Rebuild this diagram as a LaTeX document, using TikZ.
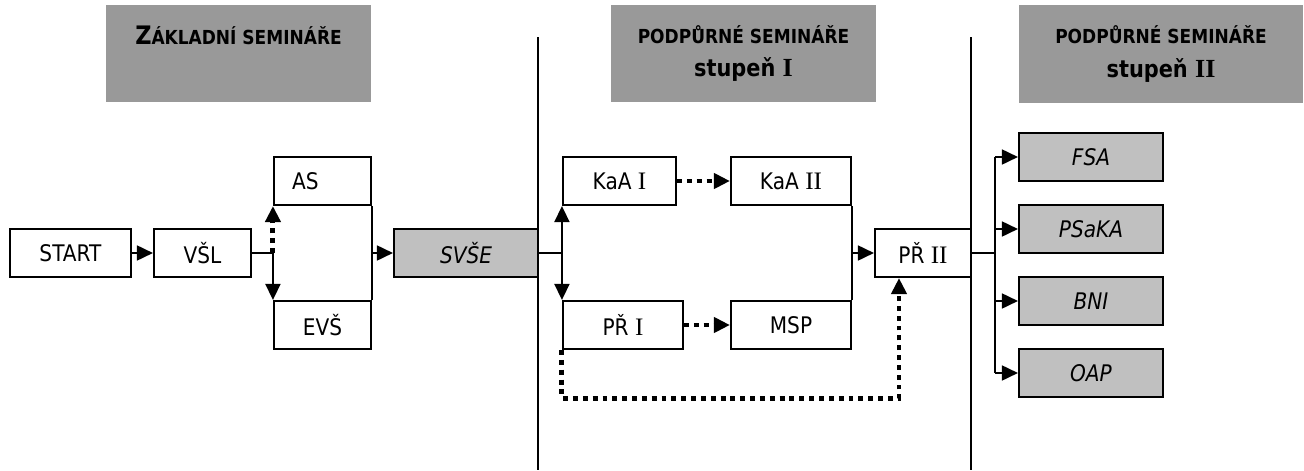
\documentclass[tikz,border=0pt]{standalone}
\usepackage{fontspec}
\setmainfont{DejaVu Sans}[FakeStretch=0.88]
\newfontfamily\romfont{Liberation Serif}[Scale=1.1]
\usetikzlibrary{arrows.meta}

\definecolor{headgrey}{HTML}{999999}
\definecolor{boxgrey}{HTML}{C0C0C0}

\newcommand{\rn}[1]{{\romfont #1}}

\begin{document}
\begin{tikzpicture}[font=\fontsize{13}{15}\selectfont,
  box/.style={draw,line width=1.2pt,minimum height=0.96cm,inner sep=0pt},
  grey box/.style={box,fill=boxgrey,font=\fontsize{13}{15}\selectfont\itshape},
  head box/.style={fill=headgrey,minimum height=1.94cm,minimum width=5.3cm,align=center,inner sep=0pt,font=\bfseries\fontsize{11}{19}\selectfont},
  line/.style={line width=1pt},
  link/.style={line width=1pt,-{Triangle[length=0.32cm,width=0.3cm]}},
  dot link/.style={line width=2.8pt,dash pattern=on 2.8pt off 2.8pt,-{Triangle[length=0.32cm,width=0.3cm]}}]
\useasboundingbox (0,0) rectangle (26.08,9.4);

% Headings
\node[head box] (head1) at (4.77,8.33) {{\fontsize{14.5}{19}\selectfont Z}ÁKLADNÍ SEMINÁŘE\\ \phantom{stupeň}};
\node[head box] (head2) at (14.87,8.33) {PODPŮRNÉ SEMINÁŘE\\{\fontsize{13.5}{19}\selectfont stupeň \rn{I}}};
\node[head box,minimum width=5.68cm] (head3) at (23.22,8.32) {PODPŮRNÉ SEMINÁŘE\\{\fontsize{13.5}{19}\selectfont stupeň \rn{II}}};

% Dividers
\draw[line width=1pt] (10.76,8.66) -- (10.76,0);
\draw[line width=1pt] (19.42,8.66) -- (19.42,0);

% Basic seminars
\node[box,minimum width=2.42cm] (start) at (1.41,4.34) {START};
\node[box,minimum width=1.94cm] (vsl) at (4.05,4.34) {VŠL};
\node[box,minimum width=1.94cm] (as) at (6.45,5.78) {\makebox[1.94cm][l]{\hspace*{0.36cm}AS}};
\node[box,minimum width=1.94cm] (evs) at (6.45,2.90) {EVŠ};
\node[grey box,minimum width=2.88cm] (svse) at (9.32,4.34) {SVŠE};

\draw[link] (start) -- (vsl);
\coordinate (split1) at (as.south west |- vsl.east);
\draw[line] (vsl.east) -- (split1);
\draw[link] (split1) -- (evs.north west);
\draw[dot link] (split1) -- (as.south west);
\draw[line] (as.south east) -- (evs.north east);
\coordinate (join1) at (as.south east |- svse.west);
\draw[link] (join1) -- (svse.west);

% Stage I
\node[box,minimum width=2.26cm] (kaa1) at (12.39,5.78) {KaA \rn{I}};
\node[box,minimum width=2.40cm] (kaa2) at (15.82,5.78) {KaA \rn{II}};
\node[box,minimum width=2.40cm] (pr1) at (12.46,2.90) {PŘ \rn{I}};
\node[box,minimum width=2.40cm] (msp) at (15.82,2.90) {MSP};
\node[box,minimum width=1.92cm] (pr2) at (18.46,4.34) {PŘ \rn{II}};

\coordinate (split2) at (kaa1.south west |- svse.east);
\draw[line] (svse.east) -- (split2);
\draw[link] (split2) -- (kaa1.south west);
\draw[link] (split2) -- (pr1.north west);
\draw[dot link] (kaa1.east) -- (kaa2.west);
\draw[dot link] (pr1.east) -- (msp.west);
\draw[line] (kaa2.south east) -- (msp.north east);
\coordinate (join2) at (kaa2.south east |- pr2.west);
\draw[link] (join2) -- (pr2.west);
\draw[dot link] (pr1.south west) -- ++(0,-0.96) -| ([xshift=-0.48cm]pr2.south);

% Stage II
\node[grey box,minimum width=2.88cm] (fsa) at (21.82,6.26) {FSA};
\node[grey box,minimum width=2.88cm] (psaka) at (21.82,4.82) {PSaKA};
\node[grey box,minimum width=2.88cm] (bni) at (21.82,3.38) {BNI};
\node[grey box,minimum width=2.88cm] (oap) at (21.82,1.94) {OAP};

\coordinate (split3) at (19.90,4.34);
\draw[line] (pr2.east) -- (split3);
\draw[line] (split3 |- fsa.west) -- (split3 |- oap.west);
\foreach \n in {fsa,psaka,bni,oap}
  \draw[link] (split3 |- \n.west) -- (\n.west);

\end{tikzpicture}
\end{document}
